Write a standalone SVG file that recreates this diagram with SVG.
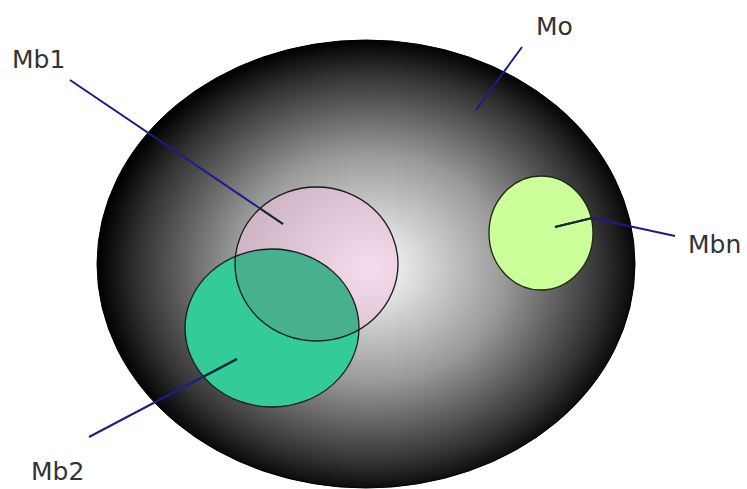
<svg xmlns="http://www.w3.org/2000/svg" width="747" height="489" viewBox="0 0 747 489">
<defs>
<radialGradient id="g0" cx="370" cy="268" r="272" gradientUnits="userSpaceOnUse" gradientTransform="translate(370 268) scale(1 0.84) translate(-370 -268)">
<stop offset="0" stop-color="#ffffff"/>
<stop offset="0.5" stop-color="#999999"/>
<stop offset="0.85" stop-color="#333333"/>
<stop offset="1" stop-color="#000000"/>
</radialGradient>
<clipPath id="cpPink"><ellipse cx="316.5" cy="264" rx="81.5" ry="77"/></clipPath>
<clipPath id="cpShapes">
<ellipse cx="316.5" cy="264" rx="81.5" ry="77"/>
<ellipse cx="272" cy="328" rx="87" ry="79"/>
<ellipse cx="541" cy="233" rx="52" ry="57"/>
</clipPath>
</defs>
<style>
.lbl{font-family:"DejaVu Sans",Verdana,sans-serif;font-size:25px;fill:#333}
.ln{stroke:#1c1c8a;stroke-width:2;fill:none}
.lnd{stroke:#1a2a2a;stroke-width:2;fill:none}
.edge{fill:none;stroke:#1a1a1a;stroke-width:1.3}
</style>
<g id="Mo">
<ellipse cx="366" cy="264" rx="269" ry="224" fill="url(#g0)" stroke="#000" stroke-width="1"/>
<text class="lbl" x="536" y="35">Mo</text>
</g>
<g id="Mb1">
<ellipse cx="316.5" cy="264" rx="81.5" ry="77" fill="#f2c4e2" fill-opacity="0.6"/>
<text class="lbl" x="12" y="68">Mb1</text>
</g>
<g id="Mb2">
<ellipse cx="272" cy="328" rx="87" ry="79" fill="#33cc99"/>
<ellipse cx="272" cy="328" rx="87" ry="79" fill="#46b08f" clip-path="url(#cpPink)"/>
<text class="lbl" x="31" y="480">Mb2</text>
</g>
<g id="Mbn">
<ellipse cx="541" cy="233" rx="52" ry="57" fill="#ccff99" stroke="#1a2a10" stroke-width="1.3"/>
<text class="lbl" x="688" y="253">Mbn</text>
</g>
<g id="outlines">
<ellipse class="edge" cx="316.5" cy="264" rx="81.5" ry="77"/>
<ellipse class="edge" cx="272" cy="328" rx="87" ry="79" stroke="#0d3a28"/>
</g>
<g id="connectors">
<line class="ln" x1="70" y1="80" x2="283" y2="224"/>
<line class="ln" x1="522" y1="47" x2="476" y2="110"/>
<polyline class="ln" points="555,227 592,218 675,236"/>
<line class="ln" x1="89" y1="437" x2="237" y2="359"/>
<g clip-path="url(#cpShapes)">
<line class="lnd" x1="70" y1="80" x2="283" y2="224"/>
<polyline class="lnd" points="555,227 592,218 675,236"/>
<line class="lnd" x1="89" y1="437" x2="237" y2="359"/>
</g>
</g>
</svg>
